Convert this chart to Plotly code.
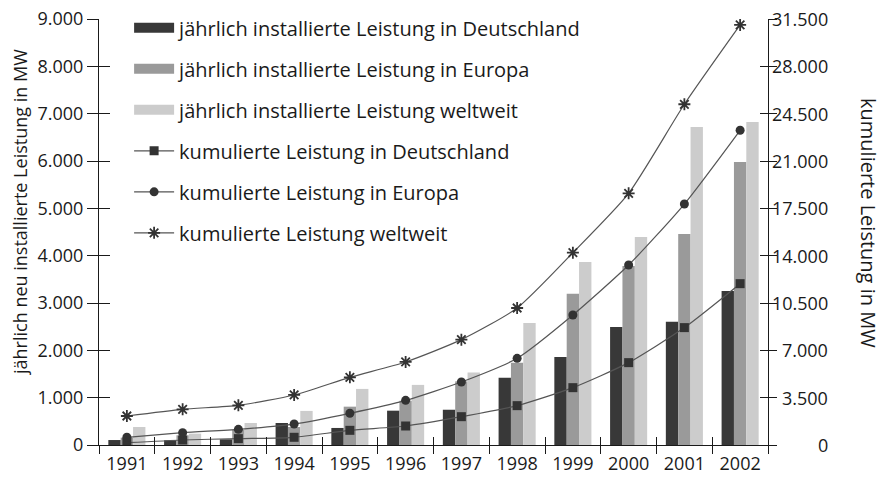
import plotly.graph_objects as go

years = ["1991", "1992", "1993", "1994", "1995", "1996", "1997", "1998", "1999", "2000", "2001", "2002"]
de_annual = [105, 100, 120, 465, 360, 725, 745, 1420, 1860, 2495, 2605, 3255]
eu_annual = [155, 205, 320, 380, 810, 935, 1345, 1740, 3195, 3780, 4460, 5980]
world_annual = [380, 240, 465, 720, 1185, 1270, 1530, 2580, 3865, 4395, 6720, 6825]
de_cum = [170, 370, 470, 570, 1085, 1405, 2095, 2910, 4240, 6090, 8680, 11930]
eu_cum = [570, 910, 1160, 1550, 2345, 3300, 4660, 6410, 9615, 13310, 17820, 23270]
world_cum = [2145, 2640, 2935, 3700, 5005, 6140, 7790, 10130, 14220, 18610, 25195, 31060]

left_ticks = [0, 1000, 2000, 3000, 4000, 5000, 6000, 7000, 8000, 9000]
right_ticks = [0, 3500, 7000, 10500, 14000, 17500, 21000, 24500, 28000, 31500]

bar_names = ["jährlich installierte Leistung in Deutschland",
             "jährlich installierte Leistung in Europa",
             "jährlich installierte Leistung weltweit"]
line_names = ["kumulierte Leistung in Deutschland",
              "kumulierte Leistung in Europa",
              "kumulierte Leistung weltweit"]
bar_colors = ["#383838", "#9a9a9a", "#cccccc"]
symbols = ["square", "circle", "asterisk-open"]

FONT = "Open Sans"
INK = "#1a1a1a"
TICK = 18

def de_fmt(v):
    return f"{v:,}".replace(",", ".")

fig = go.Figure()

for name, vals, col in zip(bar_names, [de_annual, eu_annual, world_annual], bar_colors):
    fig.add_trace(go.Bar(x=years, y=vals, marker=dict(color=col, line=dict(width=0)),
                         showlegend=False, yaxis="y", name=name))

# legend proxies for bars (wide rectangles)
for i, (name, col) in enumerate(zip(bar_names, bar_colors)):
    fig.add_trace(go.Scatter(x=[None], y=[None], mode="lines", name=name,
                             line=dict(color=col, width=13), legendgroup=f"g{i}"))

for i, (name, vals, sym) in enumerate(zip(line_names, [de_cum, eu_cum, world_cum], symbols)):
    if sym == "asterisk-open":
        mk = dict(symbol=sym, size=10, color="#333333", line=dict(color="#333333", width=1.8))
    else:
        mk = dict(symbol=sym, size=9, color="#333333", line=dict(width=0))
    fig.add_trace(go.Scatter(x=years, y=vals, mode="lines+markers", name=name, yaxis="y2",
                             line=dict(color="#555555", width=1.2, shape="spline", smoothing=0.6),
                             marker=mk, legendgroup=f"g{i+3}"))

n = len(years)
bounds = [i - 0.5 for i in range(n + 1)]

fig.update_layout(
    width=887, height=479, autosize=False,
    margin=dict(l=91, r=127, t=11, b=42, autoexpand=False),
    paper_bgcolor="white", plot_bgcolor="white",
    font=dict(family=FONT, size=TICK, color=INK),
    separators=",.",
    barmode="group", bargap=0.335, bargroupgap=0,
    xaxis=dict(type="category", categoryorder="array", categoryarray=years,
               range=[-0.5, n - 0.5], showline=True, linecolor=INK, linewidth=1.2,
               ticks="outside", ticklen=8, tickwidth=1.2, tickcolor=INK,
               tickson="boundaries", showgrid=False, zeroline=False, automargin=False,
               ticklabelstandoff=2, tickfont=dict(size=TICK)),
    xaxis3=dict(overlaying="x", anchor="y", range=[-0.5, n - 0.5], tickvals=bounds,
                ticks="inside", ticklen=8, tickwidth=1.2, tickcolor=INK, automargin=False,
                showticklabels=False, showline=False, showgrid=False, zeroline=False),
    yaxis=dict(range=[0, 9000], tickvals=left_ticks, ticktext=[de_fmt(v) for v in left_ticks],
               showline=True, linecolor=INK, linewidth=1.2, automargin=False,
               ticks="outside", ticklen=11, tickwidth=1.2, tickcolor=INK,
               ticklabeloverflow="allow",
               showgrid=False, zeroline=False, tickfont=dict(size=TICK)),
    yaxis3=dict(overlaying="y", anchor="x", side="left", range=[0, 9000], tickvals=left_ticks,
                ticks="inside", ticklen=11, tickwidth=1.2, tickcolor=INK, automargin=False,
                showticklabels=False, showline=False, showgrid=False, zeroline=False),
    yaxis2=dict(overlaying="y", side="right", anchor="x", range=[0, 31500], tickvals=right_ticks,
                showticklabels=False, showline=True, linecolor=INK, linewidth=1.2, automargin=False,
                ticks="outside", ticklen=8, tickwidth=1.2, tickcolor=INK,
                showgrid=False, zeroline=False),
    yaxis4=dict(overlaying="y", side="right", anchor="x", range=[0, 31500], tickvals=right_ticks,
                ticks="inside", ticklen=8, tickwidth=1.2, tickcolor=INK, automargin=False,
                showticklabels=False, showline=False, showgrid=False, zeroline=False),
    legend=dict(x=0.045, y=1.025, xanchor="left", yanchor="top", bgcolor="rgba(0,0,0,0)",
                font=dict(size=20), tracegroupgap=12, itemwidth=40, traceorder="grouped",
                maxheight=1000),
)

# dummy traces to activate overlay axes
fig.add_trace(go.Scatter(x=[None], y=[None], xaxis="x3", yaxis="y3", showlegend=False, hoverinfo="skip"))
fig.add_trace(go.Scatter(x=[None], y=[None], yaxis="y4", showlegend=False, hoverinfo="skip"))

annotations = []
for v in right_ticks:
    annotations.append(dict(xref="paper", yref="y2", x=1, y=v, xanchor="right", yanchor="middle",
                            xshift=62, text=de_fmt(v), showarrow=False, font=dict(size=TICK, color=INK)))
annotations.append(dict(xref="paper", yref="paper", x=0, y=0.547, xshift=-79, xanchor="center",
                        yanchor="middle", textangle=-90, showarrow=False,
                        text="jährlich neu installierte Leistung in MW", font=dict(size=18, color=INK)))
annotations.append(dict(xref="paper", yref="paper", x=1, y=0.521, xshift=101, xanchor="center",
                        yanchor="middle", textangle=90, showarrow=False,
                        text="kumulierte Leistung in MW", font=dict(size=20, color=INK)))
fig.update_layout(annotations=annotations)

fig.write_html("out.html")
